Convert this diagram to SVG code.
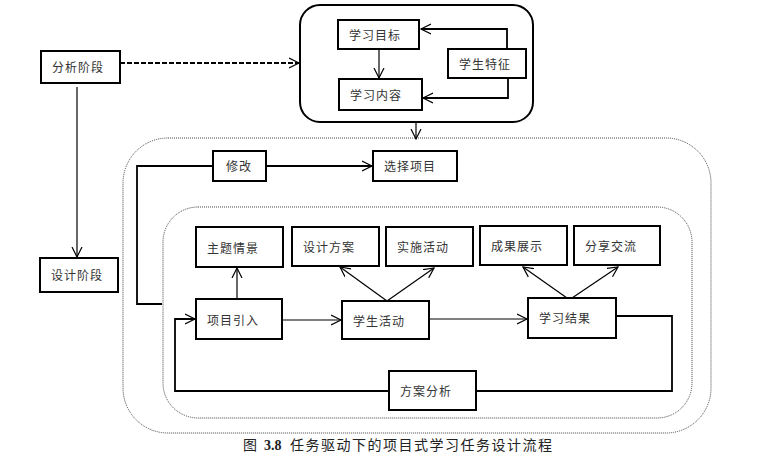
<svg xmlns="http://www.w3.org/2000/svg" width="778" height="469" viewBox="0 0 778 469">
<style>
.box{fill:#fff;stroke:#000;stroke-width:2}
.t{font-family:"Noto Sans CJK SC","Liberation Sans",sans-serif;font-size:12px;fill:#333;letter-spacing:1px}
.ln{fill:none;stroke:#000;stroke-width:1.2}
.ln2{fill:none;stroke:#000;stroke-width:1.8}
.dot{fill:none;stroke:#444;stroke-width:1;stroke-dasharray:1 1}
.cap{font-family:"Noto Sans CJK SC","Liberation Serif",serif;font-size:14px;fill:#222;letter-spacing:1.5px}
</style>
<defs>
<marker id="a" markerUnits="userSpaceOnUse" markerWidth="12" markerHeight="12" refX="10" refY="5" orient="auto" viewBox="0 0 12 10">
<path d="M0,0 L10,5 L0,10" fill="none" stroke="#000" stroke-width="1.2"/>
</marker>
</defs>
<rect width="778" height="469" fill="#fff"/>
<g id="containers">
<rect x="300" y="5" width="233" height="117" rx="20" fill="none" stroke="#000" stroke-width="2"/>
<rect x="123" y="138" width="588" height="295" rx="45" class="dot"/>
<rect x="163" y="207" width="529" height="211" rx="35" class="dot"/>
</g>
<g id="connectors">
<line x1="120" y1="63" x2="299" y2="63" class="ln2" stroke-dasharray="5 2" marker-end="url(#a)"/>
<line x1="77" y1="87" x2="77" y2="257" class="ln" marker-end="url(#a)"/>
<line x1="379" y1="49" x2="379" y2="78" class="ln" marker-end="url(#a)"/>
<polyline points="507,49 507,29 421,29" class="ln2" marker-end="url(#a)"/>
<polyline points="508,78 508,98 423,98" class="ln2" marker-end="url(#a)"/>
<line x1="416" y1="122" x2="416" y2="139" class="ln" marker-end="url(#a)"/>
<line x1="266" y1="166" x2="372" y2="166" class="ln2" marker-end="url(#a)"/>
<polyline points="213,166 137,166 137,304 162,304" class="ln2"/>
<line x1="237" y1="299" x2="237" y2="268" class="ln" marker-end="url(#a)"/>
<line x1="282" y1="320" x2="341" y2="320" class="ln" marker-end="url(#a)"/>
<line x1="387" y1="301" x2="340" y2="267" class="ln" marker-end="url(#a)"/>
<line x1="387" y1="301" x2="434" y2="268" class="ln" marker-end="url(#a)"/>
<line x1="429" y1="319" x2="527" y2="319" class="ln" marker-end="url(#a)"/>
<line x1="567" y1="298" x2="523" y2="267" class="ln" marker-end="url(#a)"/>
<line x1="572" y1="298" x2="618" y2="267" class="ln" marker-end="url(#a)"/>
<polyline points="616,316 672,316 672,391 476,391" class="ln2"/>
<polyline points="389,391 175,391 175,319 195,319" class="ln2" marker-end="url(#a)"/>
</g>
<g id="n-fenxi"><rect x="41" y="51" width="79" height="32" class="box"/><text x="52" y="72" class="t">分析阶段</text></g>
<g id="n-sheji"><rect x="40" y="258" width="78" height="34" class="box"/><text x="51" y="280" class="t">设计阶段</text></g>
<g id="n-mubiao"><rect x="338" y="20" width="81" height="29" class="box"/><text x="349" y="40" class="t">学习目标</text></g>
<g id="n-neirong"><rect x="339" y="79" width="83" height="31" class="box"/><text x="350" y="100" class="t">学习内容</text></g>
<g id="n-tezheng"><rect x="448" y="49" width="78" height="29" class="box"/><text x="459" y="69" class="t">学生特征</text></g>
<g id="n-xiugai"><rect x="213" y="151" width="53" height="30" class="box"/><text x="226" y="171" class="t">修改</text></g>
<g id="n-xuanze"><rect x="373" y="151" width="84" height="30" class="box"/><text x="384" y="171" class="t">选择项目</text></g>
<g id="n-qingjing"><rect x="196" y="227" width="87" height="40" class="box"/><text x="207" y="253" class="t">主题情景</text></g>
<g id="n-fangan"><rect x="292" y="227" width="87" height="39" class="box"/><text x="303" y="252" class="t">设计方案</text></g>
<g id="n-shishi"><rect x="386" y="227" width="87" height="39" class="box"/><text x="397" y="252" class="t">实施活动</text></g>
<g id="n-zhanshi"><rect x="480" y="226" width="87" height="39" class="box"/><text x="491" y="251" class="t">成果展示</text></g>
<g id="n-jiaoliu"><rect x="574" y="226" width="86" height="39" class="box"/><text x="585" y="251" class="t">分享交流</text></g>
<g id="n-yinru"><rect x="196" y="299" width="86" height="40" class="box"/><text x="207" y="325" class="t">项目引入</text></g>
<g id="n-huodong"><rect x="342" y="301" width="87" height="38" class="box"/><text x="353" y="326" class="t">学生活动</text></g>
<g id="n-jieguo"><rect x="528" y="298" width="88" height="40" class="box"/><text x="539" y="323" class="t">学习结果</text></g>
<g id="n-fenxi2"><rect x="389" y="371" width="87" height="39" class="box"/><text x="400" y="396" class="t">方案分析</text></g>
<g id="caption"><text x="243" y="450" class="cap">图<tspan x="264" font-family="Liberation Serif" font-weight="bold" letter-spacing="0">3.8</tspan><tspan x="290">任务驱动下的项目式学习任务设计流程</tspan></text></g>
</svg>
